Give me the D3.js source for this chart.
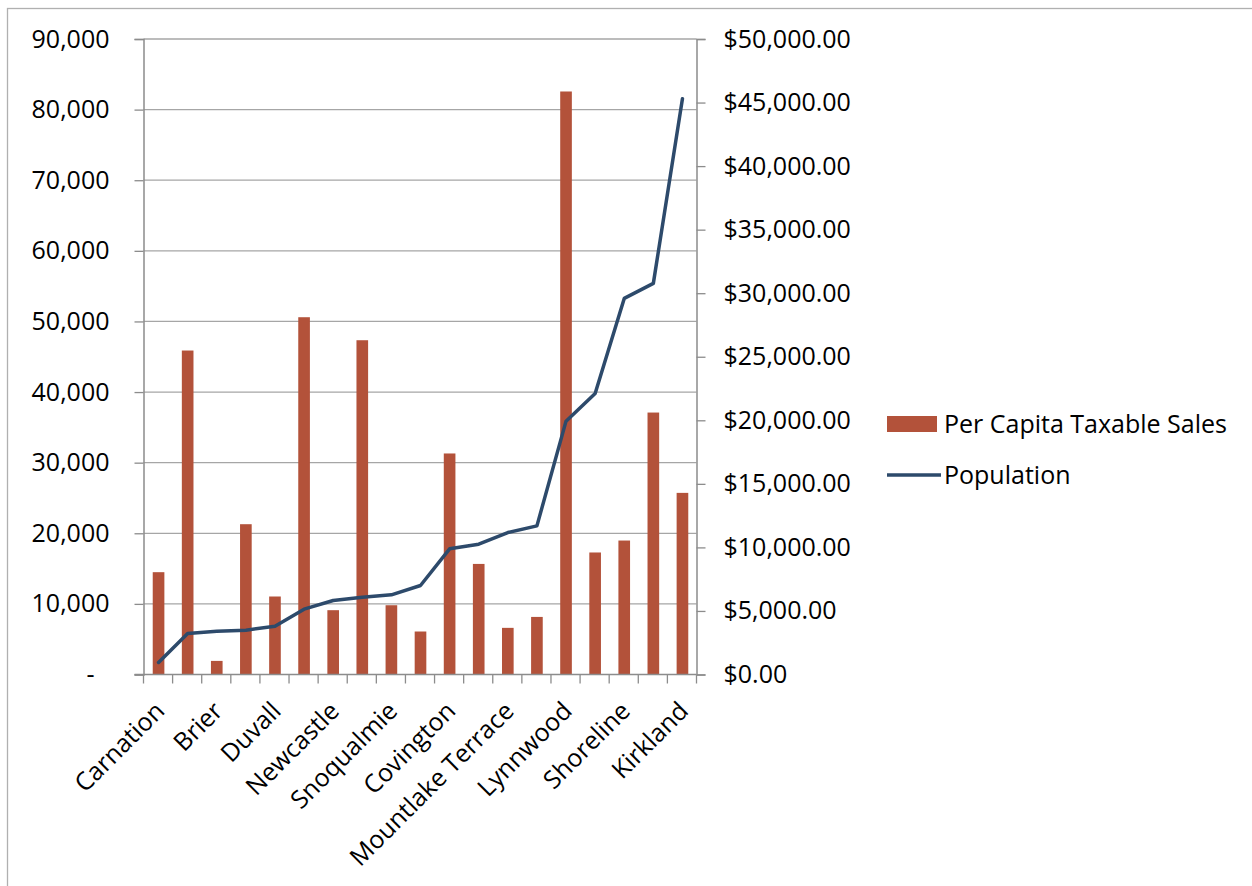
<!DOCTYPE html>
<html>
<head>
<meta charset="utf-8">
<script src="https://cdn.jsdelivr.net/npm/d3@7"></script>
<style>
  html, body { margin: 0; padding: 0; background: #fff; }
  svg { display: block; }
  text { font-family: "Open Sans", "Noto Sans", sans-serif; fill: #000; }
</style>
</head>
<body>
<svg id="chart" width="1252" height="886"></svg>
<script>
// Categories (only every other label is printed in the original chart; unreadable ones left blank)
const categories = ["Carnation", "", "Brier", "", "Duvall", "", "Newcastle", "", "Snoqualmie", "",
  "Covington", "", "Mountlake Terrace", "", "Lynnwood", "", "Shoreline", "", "Kirkland"];
// Per Capita Taxable Sales ($, right axis)
const perCapitaSales = [8050, 25490, 1070, 11825, 6137, 28110, 5060, 26300, 5450, 3383,
  17390, 8700, 3670, 4530, 45870, 9600, 10540, 20610, 14290];
// Population (left axis)
const population = [1700, 5810, 6130, 6280, 6840, 9250, 10480, 10950, 11280, 12600,
  17800, 18460, 20110, 21050, 35880, 39800, 53260, 55390, 81540];
const leftTicks = [0, 10000, 20000, 30000, 40000, 50000, 60000, 70000, 80000, 90000];
const rightTicks = [0, 5000, 10000, 15000, 20000, 25000, 30000, 35000, 40000, 45000, 50000];
const seriesNames = ["Per Capita Taxable Sales", "Population"];

const barColor = "#B3523A";
const lineColor = "#2D4A6B";
const axisColor = "#8C8C8C";
const gridColor = "#A6A6A6";

const svg = d3.select("#chart");
const L = 143.5, R = 696.5, T = 39, B = 674.5;
const FS = 25;

// outer border
svg.append("rect").attr("x", 7.5).attr("y", 8.5).attr("width", 1300).attr("height", 1000)
  .attr("fill", "none").attr("stroke", "#B0B0B0").attr("stroke-width", 1.3);

const idx = categories.map((d, i) => i);
const x = d3.scaleBand().domain(idx).range([L, R]).paddingInner(0).paddingOuter(0);
const yL = d3.scaleLinear().domain([0, 90000]).range([B, T]);
const yR = d3.scaleLinear().domain([0, 50000]).range([B, T]);

// gridlines
svg.append("g").selectAll("line").data(leftTicks.filter(d => d > 0)).join("line")
  .attr("x1", L).attr("x2", R).attr("y1", d => yL(d)).attr("y2", d => yL(d))
  .attr("stroke", gridColor).attr("stroke-width", 1.3);

// bars
const bw = x.bandwidth() / 2.5;
svg.append("g").selectAll("rect").data(perCapitaSales).join("rect")
  .attr("x", (d, i) => x(i) + x.bandwidth() / 2 - bw / 2 + 0.5)
  .attr("width", bw)
  .attr("y", d => yR(d))
  .attr("height", d => B - yR(d))
  .attr("fill", barColor);

// left axis
const fmtL = d3.format(",");
const gL = svg.append("g").attr("transform", `translate(${L},0)`)
  .call(d3.axisLeft(yL).tickValues(leftTicks).tickSize(9).tickPadding(25)
    .tickFormat(d => d === 0 ? "-" : fmtL(d)));
gL.select(".domain").attr("stroke", axisColor).attr("stroke-width", 1.5);
gL.selectAll(".tick line").attr("stroke", axisColor).attr("stroke-width", 1.3);
gL.selectAll(".tick text").attr("font-size", FS).attr("font-family", "Open Sans").attr("fill", "#000")
  .attr("dx", d => d === 0 ? -15 : 0);

// right axis
const fmtR = d3.format("$,.2f");
const gR = svg.append("g").attr("transform", `translate(${R},0)`)
  .call(d3.axisRight(yR).tickValues(rightTicks).tickSize(9).tickPadding(18).tickFormat(fmtR));
gR.select(".domain").attr("stroke", axisColor).attr("stroke-width", 1.5);
gR.selectAll(".tick line").attr("stroke", axisColor).attr("stroke-width", 1.3);
gR.selectAll(".tick text").attr("font-size", FS).attr("font-family", "Open Sans").attr("fill", "#000");

// x axis
svg.append("line").attr("x1", L - 9).attr("x2", R).attr("y1", B).attr("y2", B)
  .attr("stroke", axisColor).attr("stroke-width", 1.5);
const bounds = idx.map(i => x(i)).concat([R]);
svg.append("g").selectAll("line").data(bounds).join("line")
  .attr("x1", d => d).attr("x2", d => d).attr("y1", B).attr("y2", B + 9)
  .attr("stroke", axisColor).attr("stroke-width", 1.3);
svg.append("g").selectAll("text").data(categories).join("text")
  .attr("text-anchor", "end")
  .attr("font-size", FS)
  .attr("transform", (d, i) => `translate(${x(i) + x.bandwidth() / 2 + 8},${B + 38}) rotate(-45)`)
  .text(d => d);

// line
const line = d3.line().x((d, i) => x(i) + x.bandwidth() / 2 + 0.5).y(d => yL(d));
svg.append("path").datum(population).attr("d", line)
  .attr("fill", "none").attr("stroke", lineColor).attr("stroke-width", 3.5)
  .attr("stroke-linejoin", "round").attr("stroke-linecap", "round");

// legend
const lg = svg.append("g");
lg.append("rect").attr("x", 887).attr("y", 416).attr("width", 50).attr("height", 16).attr("fill", barColor);
lg.append("text").attr("x", 944).attr("y", 424).attr("dy", "0.35em").attr("font-size", FS).text(seriesNames[0]);
lg.append("line").attr("x1", 887).attr("x2", 941).attr("y1", 475).attr("y2", 475)
  .attr("stroke", lineColor).attr("stroke-width", 3.5);
lg.append("text").attr("x", 944).attr("y", 475).attr("dy", "0.35em").attr("font-size", FS).text(seriesNames[1]);
</script>
</body>
</html>
